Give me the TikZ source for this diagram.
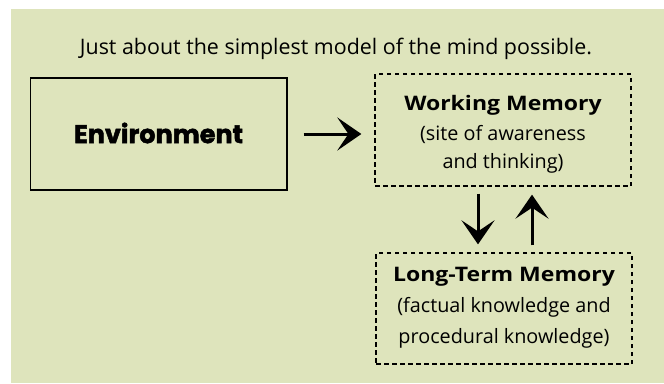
\documentclass[tikz,border=0pt]{standalone}
\usepackage{fontspec}
\setmainfont{Open Sans}[BoldFeatures={FakeStretch=1.15}]
\newfontfamily\envfont{Poppins}[BoldFeatures={FakeBold=2}]
\usetikzlibrary{arrows.meta}
\definecolor{bggreen}{RGB}{222,228,188}
\tikzset{
  bigtip/.style={-{Stealth[length=24pt,width=33pt,inset=11pt]}, line width=3pt},
  solidbox/.style={draw, line width=1.4pt, inner sep=0pt},
  dashbox/.style={draw, line width=1.3pt, dash pattern=on 4.5pt off 3.5pt, inner sep=0pt},
  txt/.style={inner sep=0pt, anchor=center},
  body/.style={txt, font=\fontsize{19.8}{24}\selectfont},
  head/.style={txt, font=\fontsize{20}{24}\selectfont\bfseries},
}
\begin{document}
\begin{tikzpicture}[x=1pt,y=-1pt]
\useasboundingbox (0,0) rectangle (664,383);
\fill[bggreen] (11,9) rectangle (664,383);
\node[txt, font=\fontsize{21.4}{26}\selectfont] (title) at (336,49) {Just about the simplest model of the mind possible.};
\node[solidbox, minimum width=256.5pt, minimum height=112pt] (env) at (158.75,134) {};
\node[txt, font=\fontsize{25.5}{30}\selectfont\envfont\bfseries] (envt) at (158.5,133) {Environment};
\node[dashbox, minimum width=256pt, minimum height=112pt] (wm) at (503,130) {};
\node[head] (wm1) at (503,105) {Working Memory};
\node[body] (wm2) at (503,134) {(site of awareness};
\node[body] (wm3) at (503,163) {and thinking)};
\node[dashbox, minimum width=256pt, minimum height=111pt] (ltm) at (504,308.5) {};
\node[head] (ltm1) at (504,277) {Long-Term Memory};
\node[body] (ltm2) at (504,307) {(factual knowledge and};
\node[body] (ltm3) at (504,338) {procedural knowledge)};
\coordinate (dx) at (478,0);
\coordinate (ux) at (532,0);
\draw[bigtip, shorten <=16pt, shorten >=13pt] (env.east) -- (env.east -| wm.west);
\draw[bigtip, shorten <=7pt, shorten >=8pt] (wm.south -| dx) -- (ltm.north -| dx);
\draw[bigtip, shorten <=7pt, shorten >=8pt] (ltm.north -| ux) -- (wm.south -| ux);
\end{tikzpicture}
\end{document}
